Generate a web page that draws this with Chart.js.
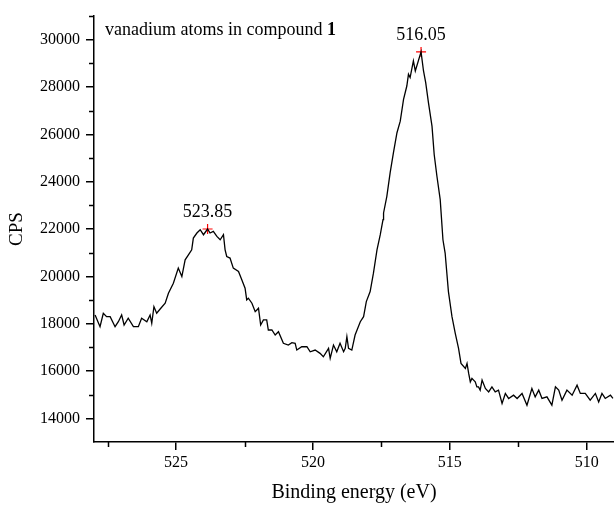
<!DOCTYPE html>
<html>
<head>
<meta charset="utf-8">
<script src="https://cdn.jsdelivr.net/npm/chart.js@4.4.1/dist/chart.umd.min.js"></script>
<style>
  html, body { margin: 0; padding: 0; background: #fff; }
  #wrap { width: 614px; height: 505px; }
</style>
</head>
<body>
<div id="wrap"><canvas id="xps" width="614" height="505"></canvas></div>
<script>
const energy = [
  527.96, 527.78, 527.66, 527.54, 527.41, 527.23, 527.11, 526.99, 526.90, 526.75,
  526.56, 526.38, 526.26, 526.07, 525.95, 525.89, 525.81, 525.71, 525.59, 525.40,
  525.28, 525.10, 524.92, 524.79, 524.67, 524.55, 524.43, 524.37, 524.24, 524.12,
  524.00, 523.85, 523.76, 523.64, 523.51, 523.39, 523.27, 523.21, 523.15, 523.03,
  522.91, 522.72, 522.60, 522.48, 522.42, 522.36, 522.23, 522.11, 522.05, 521.99,
  521.91, 521.81, 521.69, 521.63, 521.50, 521.38, 521.26, 521.08, 520.90, 520.77,
  520.65, 520.59, 520.41, 520.22, 520.10, 519.92, 519.74, 519.62, 519.43, 519.37,
  519.25, 519.13, 519.01, 518.88, 518.82, 518.76, 518.70, 518.58, 518.46, 518.27,
  518.15, 518.05, 517.91, 517.79, 517.66, 517.54, 517.44, 517.42, 517.30, 517.18,
  517.06, 516.93, 516.81, 516.69, 516.57, 516.51, 516.45, 516.33, 516.26, 516.05,
  515.96, 515.88, 515.78, 515.65, 515.57, 515.47, 515.35, 515.25, 515.17, 515.05,
  514.92, 514.80, 514.68, 514.59, 514.43, 514.37, 514.31, 514.25, 514.19, 514.13,
  514.07, 514.01, 513.95, 513.89, 513.82, 513.70, 513.58, 513.46, 513.34, 513.22,
  513.09, 512.97, 512.85, 512.67, 512.54, 512.36, 512.18, 512.00, 511.88, 511.75,
  511.63, 511.45, 511.27, 511.14, 511.02, 510.90, 510.72, 510.53, 510.35, 510.23,
  510.05, 509.87, 509.68, 509.56, 509.44, 509.32, 509.13, 509.04
];
const cps = [
  18368, 17873, 18440, 18296, 18296, 17873, 18084, 18368, 17945, 18228,
  17873, 17873, 18228, 18084, 18368, 18017, 18720, 18440, 18610, 18864,
  19288, 19711, 20347, 19991, 20699, 20910, 21122, 21618, 21830, 21970,
  21758, 22000, 21830, 21898, 21686, 21546, 21758, 21122, 20838, 20771,
  20347, 20203, 19851, 19500, 19004, 19076, 18864, 18508, 18580, 18652,
  17945, 18157, 18157, 17733, 17733, 17521, 17661, 17169, 17097, 17195,
  17169, 16885, 17025, 17025, 16813, 16885, 16746, 16601, 16957, 16534,
  17097, 16813, 17169, 16813, 16957, 17449, 16957, 16885, 17521, 18084,
  18296, 18932, 19356, 20135, 21122, 21758, 22393, 22677, 23381, 24372,
  25220, 26067, 26558, 27478, 28041, 28537, 28397, 29101, 28677, 29482,
  28677, 28185, 27338, 26347, 25148, 24228, 23241, 21546, 20983, 19356,
  18296, 17593, 16957, 16322, 16110, 16322, 15898, 15542, 15686, 15614,
  15542, 15330, 15330, 15191, 15614, 15263, 15119, 15330, 15119, 15191,
  14627, 15051, 14839, 14979, 14839, 15051, 14555, 15263, 14907, 15191,
  14839, 14907, 14555, 15330, 15191, 14767, 15191, 14979, 15402, 15051,
  15051, 14767, 15051, 14695, 15051, 14839, 14979, 14839
];

// Pics marqués
const peakEnergy = [516.05, 523.85];
const peakCps = [29482, 22000];
const peakLabels = ['516.05', '523.85'];

// Axes
const xMajorTicks = [525, 520, 515, 510];
const xMinorTicks = [527.5, 522.5, 517.5, 512.5];
const yMajorTicks = [14000, 16000, 18000, 20000, 22000, 24000, 26000, 28000, 30000];
const yMinorTicks = [15000, 17000, 19000, 21000, 23000, 25000, 27000, 29000, 31000];

const SERIF = "'Liberation Serif', 'Times New Roman', serif";

// === Plugin : petits ticks, étiquettes des pics, titre ===
const decorPlugin = {
  id: 'decor',
  afterDraw(chart) {
    const ctx = chart.ctx;
    const xs = chart.scales.x, ys = chart.scales.y;
    const area = chart.chartArea;
    ctx.save();
    ctx.strokeStyle = '#000';
    ctx.lineWidth = 1.5;
    ctx.beginPath();
    xMinorTicks.forEach(v => {
      const px = Math.round(xs.getPixelForValue(v)) + 0.5;
      ctx.moveTo(px, area.bottom);
      ctx.lineTo(px, area.bottom + 5);
    });
    yMinorTicks.forEach(v => {
      const py = Math.round(ys.getPixelForValue(v)) + 0.5;
      ctx.moveTo(area.left, py);
      ctx.lineTo(area.left - 5, py);
    });
    ctx.stroke();

    // étiquettes des pics
    ctx.fillStyle = '#000';
    ctx.font = '18px ' + SERIF;
    ctx.textAlign = 'center';
    ctx.textBaseline = 'alphabetic';
    peakEnergy.forEach((e, i) => {
      const px = xs.getPixelForValue(e);
      const py = ys.getPixelForValue(peakCps[i]);
      ctx.fillText(peakLabels[i], px, py - 12);
    });

    // titre
    ctx.textAlign = 'left';
    const t1 = 'vanadium atoms in compound ';
    ctx.font = '18px ' + SERIF;
    const x0 = area.left + 11;
    ctx.fillText(t1, x0, 35);
    const w = ctx.measureText(t1).width;
    ctx.font = 'bold 18px ' + SERIF;
    ctx.fillText('1', x0 + w, 35);
    ctx.restore();
  }
};

const ctx = document.getElementById('xps').getContext('2d');

const xpsChart = new Chart(ctx, {
  type: 'line',
  data: {
    datasets: [
      {
        data: energy.map((e, i) => ({ x: e, y: cps[i] })),
        borderColor: '#000',
        borderWidth: 1.3,
        pointRadius: 0,
        tension: 0,
        fill: false
      },
      {
        data: peakEnergy.map((e, i) => ({ x: e, y: peakCps[i] })),
        showLine: false,
        pointStyle: 'cross',
        pointRadius: 5,
        borderColor: '#ff0000',
        backgroundColor: '#ff0000',
        borderWidth: 1.2
      }
    ]
  },
  options: {
    responsive: false,
    animation: false,
    devicePixelRatio: 1,
    layout: { autoPadding: false, padding: { top: 16, right: 0, bottom: 0, left: 0 } },
    plugins: { legend: { display: false }, tooltip: { enabled: false } },
    scales: {
      x: {
        type: 'linear',
        min: 509,
        max: 528,
        reverse: true,
        afterBuildTicks: s => { s.ticks = xMajorTicks.map(v => ({ value: v })); },
        afterFit: s => { s.height = 63; s.paddingLeft = 0; s.paddingRight = 0; },
        border: { display: true, color: '#000', width: 1.5 },
        grid: { drawOnChartArea: false, color: '#000', lineWidth: 1.5, tickLength: 8 },
        ticks: { color: '#000', font: { family: SERIF, size: 16 }, padding: 3, maxRotation: 0 },
        title: {
          display: true, text: 'Binding energy (eV)', color: '#000',
          font: { family: SERIF, size: 20 }, padding: { top: 0, bottom: 0 }
        }
      },
      y: {
        min: 13000,
        max: 31000,
        afterBuildTicks: s => { s.ticks = yMajorTicks.map(v => ({ value: v })); },
        afterFit: s => { s.width = 94; s.paddingTop = 0; s.paddingBottom = 0; },
        border: { display: true, color: '#000', width: 1.5 },
        grid: { drawOnChartArea: false, color: '#000', lineWidth: 1.5, tickLength: 8 },
        ticks: { color: '#000', font: { family: SERIF, size: 16 }, padding: 6, callback: v => String(v) },
        title: {
          display: true, text: 'CPS', color: '#000',
          font: { family: SERIF, size: 19 }, padding: { top: 6, bottom: 0 }
        }
      }
    }
  },
  plugins: [decorPlugin]
});
</script>
</body>
</html>
